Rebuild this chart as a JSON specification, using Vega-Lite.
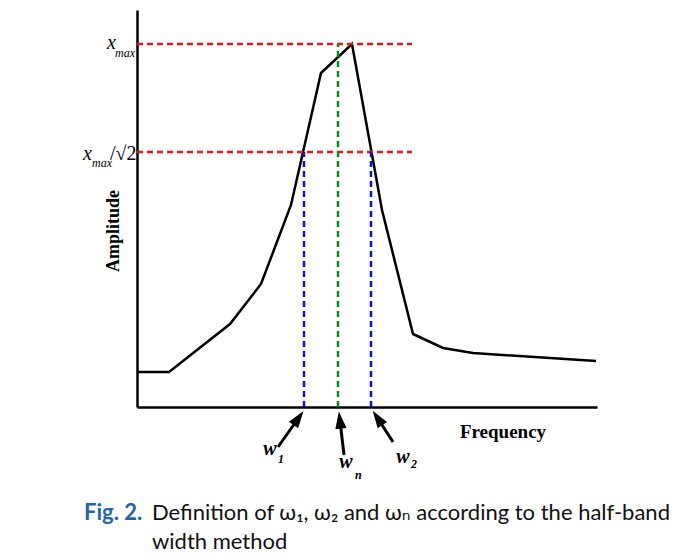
{
  "$schema": "https://vega.github.io/schema/vega-lite/v6.json",
  "width": 460,
  "height": 397,
  "autosize": {"type": "none"},
  "padding": {"left": 137, "top": 10, "right": 84, "bottom": 152},
  "background": "white",
  "config": {"view": {"stroke": null}},
  "datasets": {
    "curve": [
      {"f": 1, "a": 35}, {"f": 32, "a": 35}, {"f": 93, "a": 83}, {"f": 124, "a": 123},
      {"f": 154, "a": 202}, {"f": 184, "a": 334}, {"f": 215, "a": 363}, {"f": 245, "a": 197},
      {"f": 276, "a": 73}, {"f": 306, "a": 59}, {"f": 336, "a": 54}, {"f": 459, "a": 46}
    ],
    "red": [{"f": 0, "f2": 275, "a": 363}, {"f": 0, "f2": 275, "a": 255}],
    "blue": [{"f": 167, "a": 0, "a2": 255}, {"f": 234, "a": 0, "a2": 255}],
    "green": [{"f": 201, "a": 0, "a2": 363}],
    "arrows": [
      {"f": 141, "a": -40, "f2": 161.5, "a2": -11},
      {"f": 207, "a": -48, "f2": 202.9, "a2": -13},
      {"f": 256, "a": -35, "f2": 240.5, "a2": -11}
    ],
    "head1": [{"f": 161.5, "a": -11}],
    "head2": [{"f": 202.9, "a": -13}],
    "head3": [{"f": 240.5, "a": -11}],
    "wbig": [
      {"f": 133, "a": -48, "t": "w"},
      {"f": 209, "a": -61, "t": "w"},
      {"f": 266, "a": -56, "t": "w"}
    ],
    "wsub": [
      {"f": 141, "a": -56, "t": "1"},
      {"f": 218, "a": -72, "t": "n"},
      {"f": 274, "a": -61, "t": "2"}
    ],
    "xbig": [{"f": -25.5, "a": 358, "t": "x"}, {"f": -49.5, "a": 247, "t": "x"}],
    "xsub": [{"f": -22, "a": 350, "t": "max"}, {"f": -45, "a": 240, "t": "max"}],
    "sqrt2": [{"f": -27, "a": 247, "t": "/√2"}],
    "freq": [{"f": 366, "a": -31, "t": "Frequency"}],
    "amp": [{"f": -23, "a": 176, "t": "Amplitude"}],
    "figlabel": [{"f": -53, "a": -113, "t": "Fig. 2."}],
    "caption": [
      {"f": 15, "a": -113, "t": "Definition of ω₁, ω₂ and ωₙ according to the half-band"},
      {"f": 15, "a": -142, "t": "width method"}
    ]
  },
  "layer": [
    {
      "data": {"name": "curve"},
      "mark": {"type": "line", "color": "black", "strokeWidth": 2.5, "clip": false},
      "encoding": {
        "x": {"field": "f", "type": "quantitative", "scale": {"domain": [0, 460], "nice": false, "zero": false},
              "axis": {"domainColor": "black", "domainWidth": 2.5, "ticks": false, "labels": false, "grid": false, "title": null}},
        "y": {"field": "a", "type": "quantitative", "scale": {"domain": [0, 397], "nice": false, "zero": false},
              "axis": {"domainColor": "black", "domainWidth": 2.5, "ticks": false, "labels": false, "grid": false, "title": null}},
        "order": {"field": "f", "type": "quantitative"}
      }
    },
    {
      "data": {"name": "red"},
      "mark": {"type": "rule", "color": "#e8141c", "strokeWidth": 2.5, "strokeDash": [6, 4]},
      "encoding": {
        "x": {"field": "f", "type": "quantitative"},
        "x2": {"field": "f2"},
        "y": {"field": "a", "type": "quantitative"}
      }
    },
    {
      "data": {"name": "blue"},
      "mark": {"type": "rule", "color": "#1010d0", "strokeWidth": 2.5, "strokeDash": [6, 4]},
      "encoding": {
        "x": {"field": "f", "type": "quantitative"},
        "y": {"field": "a", "type": "quantitative"},
        "y2": {"field": "a2"}
      }
    },
    {
      "data": {"name": "green"},
      "mark": {"type": "rule", "color": "#0a8a1e", "strokeWidth": 2.5, "strokeDash": [6, 4]},
      "encoding": {
        "x": {"field": "f", "type": "quantitative"},
        "y": {"field": "a", "type": "quantitative"},
        "y2": {"field": "a2"}
      }
    },
    {
      "data": {"name": "arrows"},
      "mark": {"type": "rule", "color": "black", "strokeWidth": 3},
      "encoding": {
        "x": {"field": "f", "type": "quantitative"},
        "y": {"field": "a", "type": "quantitative"},
        "x2": {"field": "f2"},
        "y2": {"field": "a2"}
      }
    },
    {
      "data": {"name": "head1"},
      "mark": {"type": "point", "shape": "M0,-1L0.65,1L-0.65,1Z", "filled": true, "color": "black", "size": 300, "angle": 35, "opacity": 1},
      "encoding": {"x": {"field": "f", "type": "quantitative"}, "y": {"field": "a", "type": "quantitative"}}
    },
    {
      "data": {"name": "head2"},
      "mark": {"type": "point", "shape": "M0,-1L0.65,1L-0.65,1Z", "filled": true, "color": "black", "size": 300, "angle": 353, "opacity": 1},
      "encoding": {"x": {"field": "f", "type": "quantitative"}, "y": {"field": "a", "type": "quantitative"}}
    },
    {
      "data": {"name": "head3"},
      "mark": {"type": "point", "shape": "M0,-1L0.65,1L-0.65,1Z", "filled": true, "color": "black", "size": 300, "angle": 326, "opacity": 1},
      "encoding": {"x": {"field": "f", "type": "quantitative"}, "y": {"field": "a", "type": "quantitative"}}
    },
    {
      "data": {"name": "wbig"},
      "mark": {"type": "text", "font": "Liberation Serif", "fontStyle": "italic", "fontWeight": "bold", "fontSize": 20, "align": "center", "baseline": "alphabetic", "color": "black"},
      "encoding": {"x": {"field": "f", "type": "quantitative"}, "y": {"field": "a", "type": "quantitative"}, "text": {"field": "t"}}
    },
    {
      "data": {"name": "wsub"},
      "mark": {"type": "text", "font": "Liberation Serif", "fontStyle": "italic", "fontWeight": "bold", "fontSize": 12, "align": "left", "baseline": "alphabetic", "color": "black"},
      "encoding": {"x": {"field": "f", "type": "quantitative"}, "y": {"field": "a", "type": "quantitative"}, "text": {"field": "t"}}
    },
    {
      "data": {"name": "xbig"},
      "mark": {"type": "text", "font": "Liberation Serif", "fontStyle": "italic", "fontSize": 20, "align": "center", "baseline": "alphabetic", "color": "black"},
      "encoding": {"x": {"field": "f", "type": "quantitative"}, "y": {"field": "a", "type": "quantitative"}, "text": {"field": "t"}}
    },
    {
      "data": {"name": "xsub"},
      "mark": {"type": "text", "font": "Liberation Serif", "fontStyle": "italic", "fontSize": 12, "align": "left", "baseline": "alphabetic", "color": "black"},
      "encoding": {"x": {"field": "f", "type": "quantitative"}, "y": {"field": "a", "type": "quantitative"}, "text": {"field": "t"}}
    },
    {
      "data": {"name": "sqrt2"},
      "mark": {"type": "text", "font": "Liberation Serif", "fontSize": 20, "align": "left", "baseline": "alphabetic", "color": "black"},
      "encoding": {"x": {"field": "f", "type": "quantitative"}, "y": {"field": "a", "type": "quantitative"}, "text": {"field": "t"}}
    },
    {
      "data": {"name": "freq"},
      "mark": {"type": "text", "font": "Liberation Serif", "fontWeight": "bold", "fontSize": 19, "align": "center", "baseline": "alphabetic", "color": "black"},
      "encoding": {"x": {"field": "f", "type": "quantitative"}, "y": {"field": "a", "type": "quantitative"}, "text": {"field": "t"}}
    },
    {
      "data": {"name": "amp"},
      "mark": {"type": "text", "font": "Liberation Serif", "fontWeight": "bold", "fontSize": 18, "align": "center", "baseline": "middle", "angle": 270, "color": "black"},
      "encoding": {"x": {"field": "f", "type": "quantitative"}, "y": {"field": "a", "type": "quantitative"}, "text": {"field": "t"}}
    },
    {
      "data": {"name": "figlabel"},
      "mark": {"type": "text", "font": "Lato", "fontWeight": "bold", "fontSize": 22, "align": "left", "baseline": "alphabetic", "color": "#1f64ad"},
      "encoding": {"x": {"field": "f", "type": "quantitative"}, "y": {"field": "a", "type": "quantitative"}, "text": {"field": "t"}}
    },
    {
      "data": {"name": "caption"},
      "mark": {"type": "text", "font": "Lato, DejaVu Sans", "fontSize": 22, "align": "left", "baseline": "alphabetic", "color": "#111111"},
      "encoding": {"x": {"field": "f", "type": "quantitative"}, "y": {"field": "a", "type": "quantitative"}, "text": {"field": "t"}}
    }
  ]
}
